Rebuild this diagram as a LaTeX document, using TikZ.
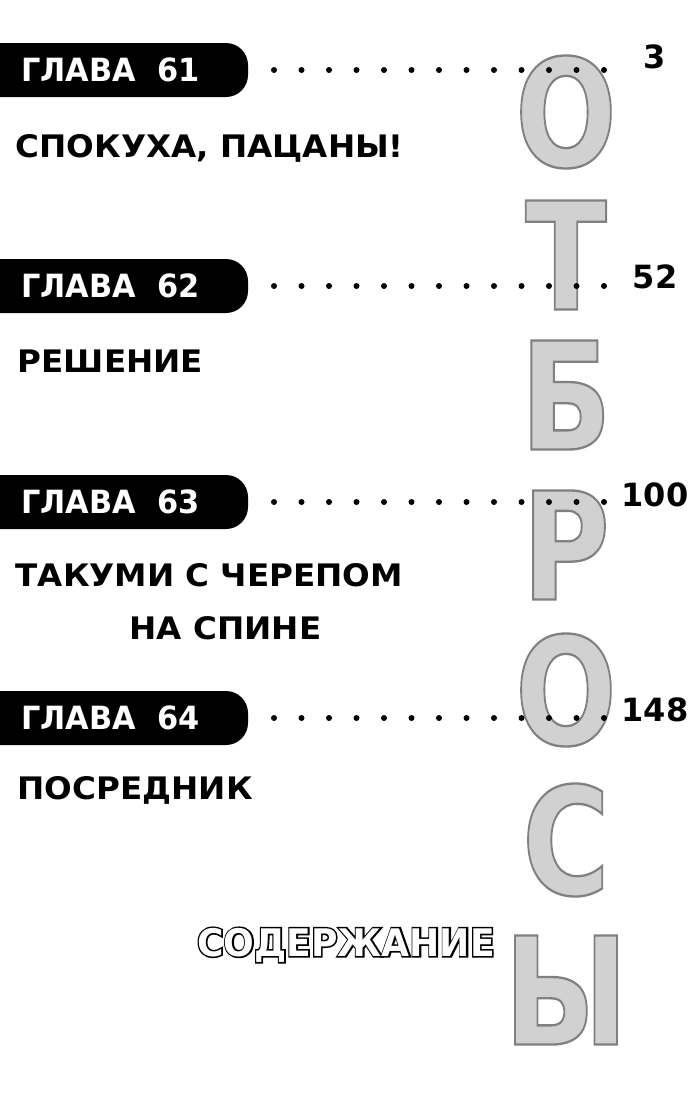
\documentclass[tikz,border=0pt]{standalone}
\usepackage{fontspec}
\setmainfont{DejaVu Sans}
\begin{document}
\begin{tikzpicture}[x=1pt,y=-1pt,
  tab/.style={fill=black,rounded corners=22pt,inner sep=0pt},
  tabtxt/.style={text=white,font=\fontsize{32}{32}\selectfont\bfseries,anchor=west,xscale=0.95},
  dots/.style={line width=6pt,dash pattern=on 0pt off 27.5pt,line cap=round},
  num/.style={font=\fontsize{32}{32}\selectfont\bfseries,anchor=center},
  sub/.style={font=\fontsize{31}{31}\selectfont\bfseries,anchor=west,xscale=1.05},
  big/.style={font=\fontsize{130}{130}\selectfont\bfseries,text=black!18,anchor=center}]
\useasboundingbox (0,0) rectangle (700,1111);
% big vertical title
\foreach \l/\yy [count=\i] in {О/112,Т/255,Б/395,Р/545,О/690,С/840,Ы/990}{
  \node[big,scale=1.15,xscale=0.8] (b\i) at (566,\yy) {\pgfsetstrokecolor{black!50}\pgfsetlinewidth{2pt}\special{pdf:literal 2 Tr}\l};
}
% tabs
\foreach \yy/\t/\n/\ny [count=\i] in {70/61/3/57, 286/62/52/277, 502/63/100/495, 718/64/148/710}{
  \fill[tab] (-30,\yy-27) rectangle (248,\yy+27);
  \node[tabtxt] (t\i) at (18,\yy) {ГЛАВА\ \ \t};
  \coordinate (ds\i) at (274,\yy);
  \coordinate (de\i) at (604,\yy);
  \draw[dots] (ds\i) -- (de\i);
  \node[num] (n\i) at (655,\ny) {\n};
}
\node[sub] (s1) at (12,148) {СПОКУХА, ПАЦАНЫ!};
\node[sub] (s2) at (14,361) {РЕШЕНИЕ};
\node[sub] (s3) at (12,575) {ТАКУМИ С ЧЕРЕПОМ};
\node[sub] (s3b) at (126,628) {НА СПИНЕ};
\node[sub] (s4) at (14,790) {ПОСРЕДНИК};
\node[font=\fontsize{38}{38}\selectfont\bfseries,anchor=center,xscale=0.95] (c) at (346,945)
  {\pgfsetstrokecolor{black}\pgfsetlinewidth{3pt}\special{pdf:literal 2 Tr}СОДЕРЖАНИЕ};
\node[font=\fontsize{38}{38}\selectfont\bfseries,text=white,anchor=center,xscale=0.95] (c2) at (346,945) {СОДЕРЖАНИЕ};
\end{tikzpicture}
\end{document}
